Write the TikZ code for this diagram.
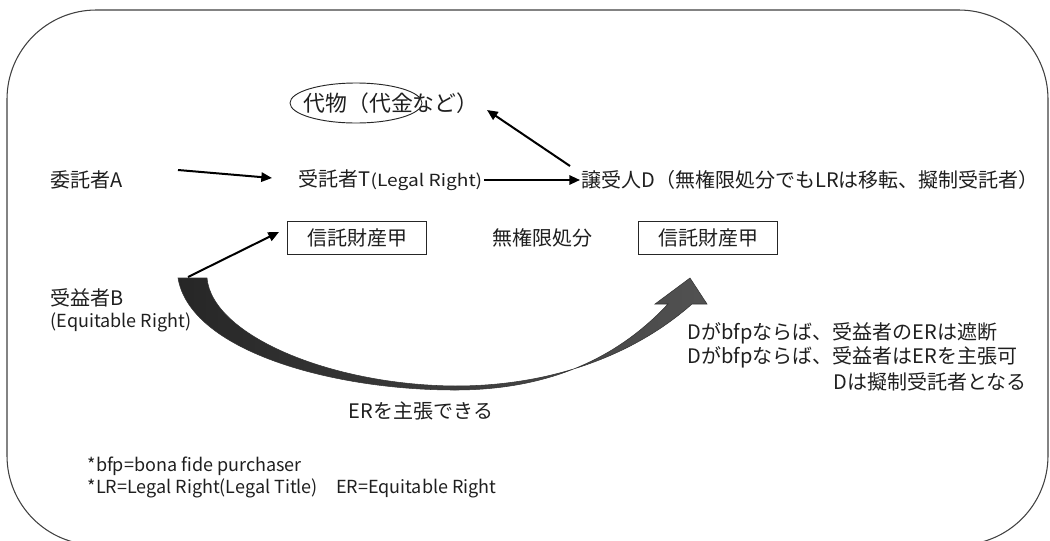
\documentclass[tikz,border=0pt]{standalone}
\usepackage{fontspec}
\setmainfont{Noto Sans CJK JP}
\usetikzlibrary{arrows.meta,shapes.geometric}
\tikzset{
  txt/.style={inner sep=1pt, font=\fontsize{15pt}{18pt}\selectfont, text=black!88},
  small/.style={inner sep=1pt, font=\fontsize{13.5pt}{16pt}\selectfont, text=black!88},
  foot/.style={inner sep=1pt, font=\fontsize{13.5pt}{16pt}\selectfont, text=black!88},
  box/.style={txt, draw=black!85, line width=0.8pt, minimum width=104pt, minimum height=24.5pt},
  arr/.style={line width=1.5pt, -{Triangle[length=8pt,width=7pt]}},
  frame/.style={draw=black!75, line width=0.8pt, rounded corners=67pt},
}
\begin{document}
\begin{tikzpicture}[x=0.75pt,y=-0.75pt]
\useasboundingbox (0,0) rectangle (1050,540);
\clip (0,0) rectangle (1050,540);
% outer frame
\draw[frame] (7,10) rectangle (1048,545);
% nodes
\node[txt,anchor=west,font=\fontsize{16.4pt}{19pt}\selectfont] (G) at (302,103) {代物（代金など）};
\draw[black!85, line width=0.7pt] (356,103) ellipse [x radius=49.5pt, y radius=15pt];
\node[txt,anchor=west] (A) at (49,180) {委託者A};
\node[txt,anchor=west] (T) at (297,180) {受託者T{\fontsize{12.5pt}{14pt}\selectfont\scalebox{1.15}[1]{(Legal Right)}}};
\node[txt,anchor=west] (D) at (580,180) {譲受人D（無権限処分でもLRは移転、擬制受託者）};
\node[box] (P1) at (357,238) {信託財産甲};
\node[txt] (M) at (542,238) {無権限処分};
\node[box] (P2) at (708,238) {信託財産甲};
\node[txt,anchor=west] (B) at (49,298) {受益者B};
\node[small,anchor=west] (BE) at (49,322) {(Equitable Right)};
\node[txt] (ER) at (421,411) {ERを主張できる};
\node[txt,anchor=west] (R1) at (686,333) {Dがbfpならば、受益者のERは遮断};
\node[txt,anchor=west] (R2) at (686,357) {Dがbfpならば、受益者はERを主張可};
\node[txt,anchor=east] (R3) at (1028,382) {Dは擬制受託者となる};
\node[foot,anchor=west] (F1) at (86,466) {*bfp=bona fide purchaser};
\node[foot,anchor=west] (F2) at (86,488) {*LR=Legal Right(Legal Title)\quad ER=Equitable Right};
% connectors
\coordinate (a1) at (178,170);
\coordinate (a2) at (272,178);
\draw[arr] (a1) -- (a2);
\draw[arr] (T.east) -- (D.west);
\coordinate (d1) at (570,166);
\coordinate (g1) at (487,110);
\draw[arr] (d1) -- (g1);
\coordinate (b1) at (188,277);
\coordinate (p1) at (279,232);
\draw[arr] (b1) -- (p1);
% big curved arrow
\shade[left color=black!85, right color=black!68, draw=black!80, line width=0.4pt]
  (178,278) -- (207,278)
  .. controls (212,335) and (330,385) .. (455,386)
  .. controls (560,386) and (640,350) .. (692,304)
  -- (707,304) -- (690,278) -- (655,304) -- (668,304)
  .. controls (625,350) and (560,390) .. (455,390)
  .. controls (330,390) and (190,350) .. (178,278) -- cycle;
\end{tikzpicture}
\end{document}
